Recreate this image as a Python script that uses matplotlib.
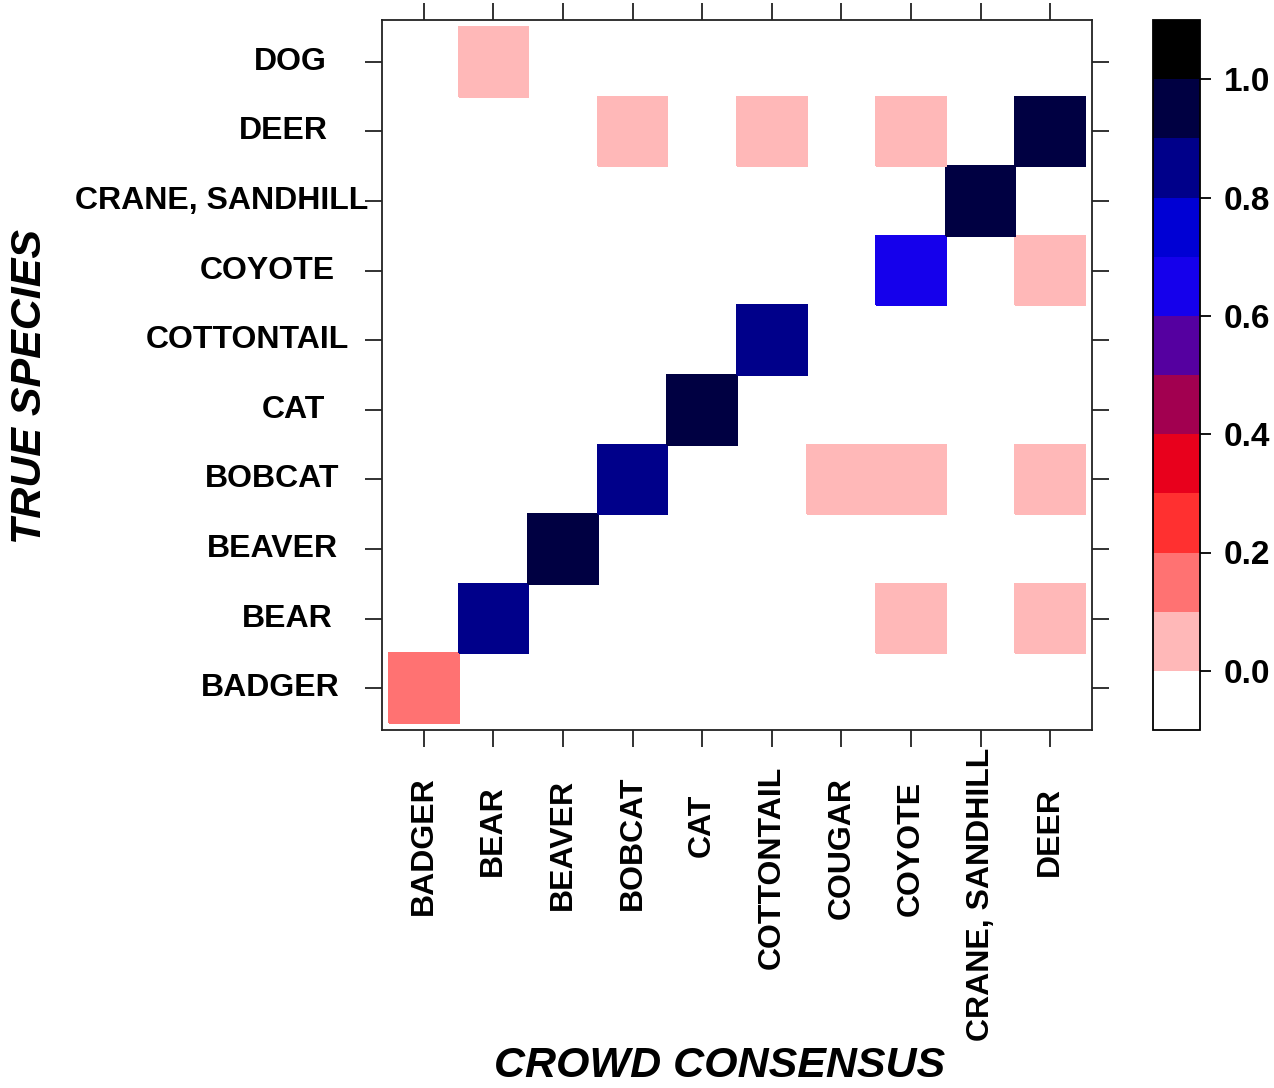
import numpy as np
import matplotlib
matplotlib.use("Agg")
import matplotlib.pyplot as plt
from matplotlib.colors import ListedColormap, BoundaryNorm
from matplotlib.transforms import ScaledTranslation

plt.rcParams['font.family'] = ['Liberation Sans', 'DejaVu Sans']

true_species = ["BADGER", "BEAR", "BEAVER", "BOBCAT", "CAT", "COTTONTAIL",
                "COYOTE", "CRANE, SANDHILL", "DEER", "DOG"]
consensus = ["BADGER", "BEAR", "BEAVER", "BOBCAT", "CAT", "COTTONTAIL",
             "COUGAR", "COYOTE", "CRANE, SANDHILL", "DEER"]

# one row per true species, one column per consensus label
row_badger = [0.15, 0, 0, 0, 0, 0, 0, 0, 0, 0]
row_bear = [0, 0.85, 0, 0, 0, 0, 0, 0.05, 0, 0.05]
row_beaver = [0, 0, 0.95, 0, 0, 0, 0, 0, 0, 0]
row_bobcat = [0, 0, 0, 0.85, 0, 0, 0.05, 0.05, 0, 0.05]
row_cat = [0, 0, 0, 0, 0.95, 0, 0, 0, 0, 0]
row_cottontail = [0, 0, 0, 0, 0, 0.85, 0, 0, 0, 0]
row_coyote = [0, 0, 0, 0, 0, 0, 0, 0.65, 0, 0.05]
row_crane = [0, 0, 0, 0, 0, 0, 0, 0, 0.95, 0]
row_deer = [0, 0, 0, 0.05, 0, 0.05, 0, 0.05, 0, 0.95]
row_dog = [0, 0.05, 0, 0, 0, 0, 0, 0, 0, 0]

level_breaks = [-0.1, 0.0, 0.1, 0.2, 0.3, 0.4, 0.5, 0.6, 0.7, 0.8, 0.9, 1.0, 1.1]
level_colors = ['#FFFFFF', '#FFB8B8', '#FF7272', '#FF3030', '#E8001C', '#A20050',
                '#5500A0', '#1500EB', '#0000D4', '#00008A', '#000042', '#000000']
bar_ticks = [0.0, 0.2, 0.4, 0.6, 0.8, 1.0]

# extra gap (px) between tick and label, per label
ylab_gap = [26, 33, 27, 26, 40, 16, 30, -3, 37, 39]
xlab_gap = [30, 39, 32, 29, 47, 19, 30, 34, 1, 40]

mat = np.ma.masked_equal(np.array([row_badger, row_bear, row_beaver, row_bobcat, row_cat,
                                   row_cottontail, row_coyote, row_crane, row_deer, row_dog]), 0)

cmap = ListedColormap(level_colors)
norm = BoundaryNorm(level_breaks, cmap.N)

fig = plt.figure(figsize=(12.74, 10.88), dpi=100)
ax = fig.add_axes([382/1274, 1 - 730/1088, 710/1274, 710/1088])
cax = fig.add_axes([1153/1274, 1 - 730/1088, 47/1274, 710/1088])

nx, ny = len(consensus), len(true_species)
xe = np.arange(nx + 1) - 0.5
ye = np.arange(ny + 1) - 0.5
ax.pcolormesh(xe, ye, mat, cmap=cmap, norm=norm, edgecolors='face', linewidth=0.3)
ax.set_xlim(-0.6, nx - 0.4)
ax.set_ylim(-0.6, ny - 0.4)

ax.set_xticks(range(nx))
ax.set_yticks(range(ny))
ax.set_xticklabels(consensus, rotation=90, fontsize=23, fontweight='bold', va='top')
ax.set_yticklabels(true_species, fontsize=23, fontweight='bold', va='center')
ax.tick_params(axis='both', which='both', direction='out', length=12, width=1.3,
               color='#222222', pad=0, top=True, right=True,
               labeltop=False, labelright=False)
for sp in ax.spines.values():
    sp.set_linewidth(1.3)
    sp.set_color('#222222')

for lbl, g in zip(ax.get_yticklabels(), ylab_gap):
    lbl.set_transform(lbl.get_transform() + ScaledTranslation(-g / 100, 0, fig.dpi_scale_trans))
for lbl, g in zip(ax.get_xticklabels(), xlab_gap):
    lbl.set_transform(lbl.get_transform() + ScaledTranslation(0, -g / 100, fig.dpi_scale_trans))

fig.text(30/1274, 1 - 387/1088, 'TRUE SPECIES', rotation=90, fontsize=31,
         fontweight='bold', fontstyle='italic', ha='center', va='center')
fig.text(720/1274, 1 - 1066/1088, 'CROWD CONSENSUS', fontsize=31,
         fontweight='bold', fontstyle='italic', ha='center', va='center')

cb = fig.colorbar(plt.cm.ScalarMappable(norm=norm, cmap=cmap), cax=cax,
                  boundaries=level_breaks, ticks=bar_ticks)
cb.outline.set_linewidth(1.3)
cb.ax.set_yticklabels(['%.1f' % t for t in bar_ticks], fontsize=24, fontweight='bold')
cb.ax.tick_params(direction='out', length=8, width=1.3, pad=9)
cb.ax.minorticks_off()

fig.savefig('out.png', dpi=100)
